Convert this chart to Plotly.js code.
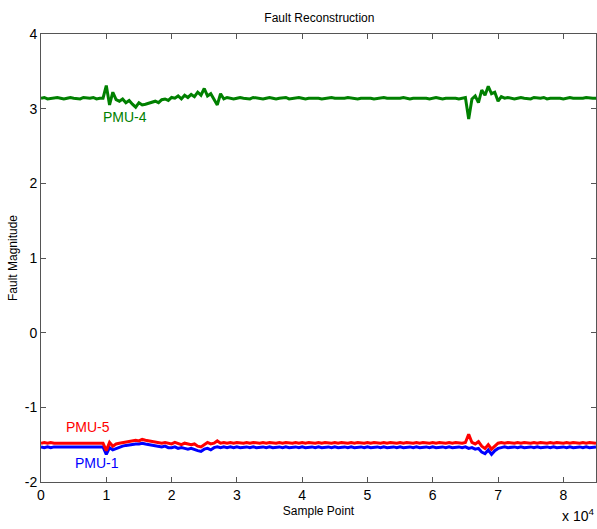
<!DOCTYPE html>
<html>
<head>
<meta charset="utf-8">
<script src="https://cdn.plot.ly/plotly-3.0.1.min.js"></script>
<style>html,body{margin:0;padding:0;background:#fff;}#chart{width:597px;height:529px;}</style>
</head>
<body>
<div id="chart"></div>
<script>
// Sample index step (samples), x shown in units of 1e4
var sampleStep = 500;

var pmu4 = [
3.14,3.15,3.13,3.14,3.14,3.15,3.14,3.13,3.14,3.15,3.14,3.14,3.13,3.15,3.14,3.14,3.15,3.13,3.14,3.14,
3.31,3.05,3.22,3.12,3.10,3.13,3.08,3.11,3.06,3.02,3.08,3.05,3.06,3.07,3.09,3.10,3.08,3.12,3.13,3.11,
3.15,3.14,3.17,3.13,3.18,3.15,3.19,3.16,3.22,3.18,3.27,3.17,3.20,3.12,3.05,3.20,3.13,3.15,3.14,3.13,
3.14,3.15,3.14,3.14,3.13,3.15,3.14,3.14,3.13,3.14,3.15,3.14,3.13,3.14,3.14,3.15,3.13,3.14,3.14,3.15,
3.14,3.13,3.14,3.14,3.15,3.14,3.13,3.14,3.14,3.15,3.14,3.14,3.13,3.14,3.15,3.14,3.14,3.13,3.14,3.14,
3.15,3.14,3.13,3.14,3.14,3.15,3.14,3.14,3.13,3.14,3.14,3.15,3.14,3.13,3.14,3.14,3.15,3.14,3.14,3.13,
3.14,3.15,3.14,3.13,3.14,3.14,3.15,3.14,3.13,3.14,3.15,2.86,3.13,3.17,3.08,3.25,3.18,3.30,3.20,3.22,
3.10,3.16,3.14,3.15,3.14,3.13,3.14,3.15,3.14,3.14,3.13,3.15,3.14,3.14,3.15,3.13,3.14,3.14,3.15,3.14,
3.13,3.14,3.15,3.14,3.14,3.13,3.14,3.15,3.14,3.14,3.14
];

var pmu5 = [
-1.48,-1.47,-1.48,-1.47,-1.48,-1.48,-1.47,-1.48,-1.47,-1.48,-1.48,-1.47,-1.48,-1.47,-1.48,-1.47,-1.48,-1.48,-1.47,-1.48,
-1.58,-1.47,-1.52,-1.49,-1.48,-1.47,-1.46,-1.46,-1.45,-1.44,-1.45,-1.43,-1.44,-1.45,-1.46,-1.47,-1.47,-1.48,-1.47,-1.48,
-1.49,-1.47,-1.48,-1.50,-1.48,-1.49,-1.50,-1.49,-1.52,-1.53,-1.50,-1.47,-1.49,-1.48,-1.45,-1.48,-1.47,-1.48,-1.47,-1.48,
-1.47,-1.48,-1.48,-1.47,-1.48,-1.47,-1.48,-1.48,-1.47,-1.48,-1.47,-1.48,-1.48,-1.47,-1.48,-1.47,-1.48,-1.48,-1.47,-1.48,
-1.47,-1.48,-1.47,-1.48,-1.48,-1.47,-1.48,-1.47,-1.48,-1.48,-1.47,-1.48,-1.47,-1.48,-1.48,-1.47,-1.48,-1.47,-1.48,-1.48,
-1.47,-1.48,-1.47,-1.48,-1.48,-1.47,-1.48,-1.47,-1.48,-1.48,-1.47,-1.48,-1.47,-1.48,-1.48,-1.47,-1.48,-1.47,-1.48,-1.48,
-1.47,-1.48,-1.47,-1.48,-1.48,-1.47,-1.48,-1.47,-1.48,-1.48,-1.47,-1.36,-1.47,-1.49,-1.46,-1.52,-1.55,-1.50,-1.56,-1.52,
-1.48,-1.47,-1.48,-1.47,-1.48,-1.48,-1.47,-1.48,-1.47,-1.48,-1.48,-1.47,-1.48,-1.47,-1.48,-1.48,-1.47,-1.48,-1.47,-1.48,
-1.48,-1.47,-1.48,-1.47,-1.48,-1.48,-1.47,-1.48,-1.47,-1.48,-1.48
];

var pmu1 = [
-1.53,-1.54,-1.53,-1.54,-1.53,-1.53,-1.54,-1.53,-1.54,-1.53,-1.53,-1.54,-1.53,-1.54,-1.53,-1.54,-1.53,-1.53,-1.54,-1.53,
-1.63,-1.54,-1.57,-1.55,-1.53,-1.52,-1.51,-1.50,-1.50,-1.49,-1.49,-1.48,-1.49,-1.50,-1.51,-1.52,-1.52,-1.53,-1.52,-1.54,
-1.54,-1.53,-1.55,-1.54,-1.55,-1.56,-1.55,-1.57,-1.58,-1.59,-1.56,-1.55,-1.57,-1.54,-1.53,-1.54,-1.53,-1.54,-1.53,-1.54,
-1.53,-1.54,-1.53,-1.53,-1.54,-1.53,-1.54,-1.53,-1.53,-1.54,-1.53,-1.54,-1.53,-1.53,-1.54,-1.53,-1.54,-1.53,-1.53,-1.54,
-1.53,-1.54,-1.53,-1.53,-1.54,-1.53,-1.54,-1.53,-1.53,-1.54,-1.53,-1.54,-1.53,-1.53,-1.54,-1.53,-1.54,-1.53,-1.53,-1.54,
-1.53,-1.54,-1.53,-1.53,-1.54,-1.53,-1.54,-1.53,-1.53,-1.54,-1.53,-1.54,-1.53,-1.53,-1.54,-1.53,-1.54,-1.53,-1.53,-1.54,
-1.53,-1.54,-1.53,-1.53,-1.54,-1.53,-1.54,-1.53,-1.53,-1.54,-1.53,-1.55,-1.54,-1.56,-1.55,-1.60,-1.62,-1.57,-1.63,-1.58,
-1.55,-1.54,-1.53,-1.54,-1.53,-1.53,-1.54,-1.53,-1.54,-1.53,-1.53,-1.54,-1.53,-1.54,-1.53,-1.53,-1.54,-1.53,-1.54,-1.53,
-1.53,-1.54,-1.53,-1.54,-1.53,-1.53,-1.54,-1.53,-1.54,-1.53,-1.53
];

var seriesNames = ["PMU-4", "PMU-5", "PMU-1"];
var seriesColors = ["#008000", "#ff0000", "#0000ff"];
var xTickVals = [0,1,2,3,4,5,6,7,8];
var yTickVals = [-2,-1,0,1,2,3,4];

function xs(n){ var a=[]; for(var i=0;i<n;i++){ a.push(i*sampleStep/1e4); } return a; }

var dataByIndex = [pmu4, pmu5, pmu1];
var traces = [];
[2,1,0].forEach(function(k){
  var d = dataByIndex[k];
  traces.push({
    x: xs(d.length), y: d, type: 'scatter', mode: 'lines',
    name: seriesNames[k], line: {color: seriesColors[k], width: 3}, showlegend: false
  });
});

var ff = 'Liberation Sans, Arial, sans-serif';
var layout = {
  width: 597, height: 529,
  margin: {l: 41, r: 1, t: 34, b: 47},
  paper_bgcolor: '#fff', plot_bgcolor: '#fff',
  showlegend: false,
  title: {text: 'Fault Reconstruction', font: {family: ff, size: 12, color: '#000'}, x: 0.535, xanchor: 'center', y: 0.975, yanchor: 'top'},
  xaxis: {
    range: [0, 8.5], tickvals: xTickVals, ticktext: xTickVals.map(String),
    ticks: 'inside', ticklen: 5, tickcolor: '#555', tickwidth: 1,
    showline: true, linecolor: '#555', linewidth: 1, mirror: 'ticks',
    showgrid: false, zeroline: false,
    tickfont: {family: ff, size: 14, color: '#000'},
    title: {text: 'Sample Point', font: {family: ff, size: 12, color: '#000'}, standoff: 4}
  },
  yaxis: {
    range: [-2, 4], tickvals: yTickVals, ticktext: yTickVals.map(String),
    ticks: 'inside', ticklen: 5, tickcolor: '#555', tickwidth: 1,
    showline: true, linecolor: '#555', linewidth: 1, mirror: 'ticks',
    showgrid: false, zeroline: false,
    tickfont: {family: ff, size: 14, color: '#000'},
    title: {text: 'Fault Magnitude', font: {family: ff, size: 12, color: '#000'}, standoff: 4}
  },
  annotations: [
    {x: 1.28, y: 2.89, text: 'PMU-4', showarrow: false, font: {family: ff, size: 14, color: '#008000'}},
    {x: 0.72, y: -1.26, text: 'PMU-5', showarrow: false, font: {family: ff, size: 14, color: '#ff0000'}},
    {x: 0.86, y: -1.74, text: 'PMU-1', showarrow: false, font: {family: ff, size: 14, color: '#0000ff'}},
    {xref: 'paper', yref: 'paper', x: 1, y: -0.099, xanchor: 'right', yanchor: 'bottom', text: 'x 10<sup>4</sup>', showarrow: false, font: {family: ff, size: 14, color: '#000'}}
  ]
};

Plotly.newPlot('chart', traces, layout, {displayModeBar: false, staticPlot: true});
</script>
</body>
</html>
